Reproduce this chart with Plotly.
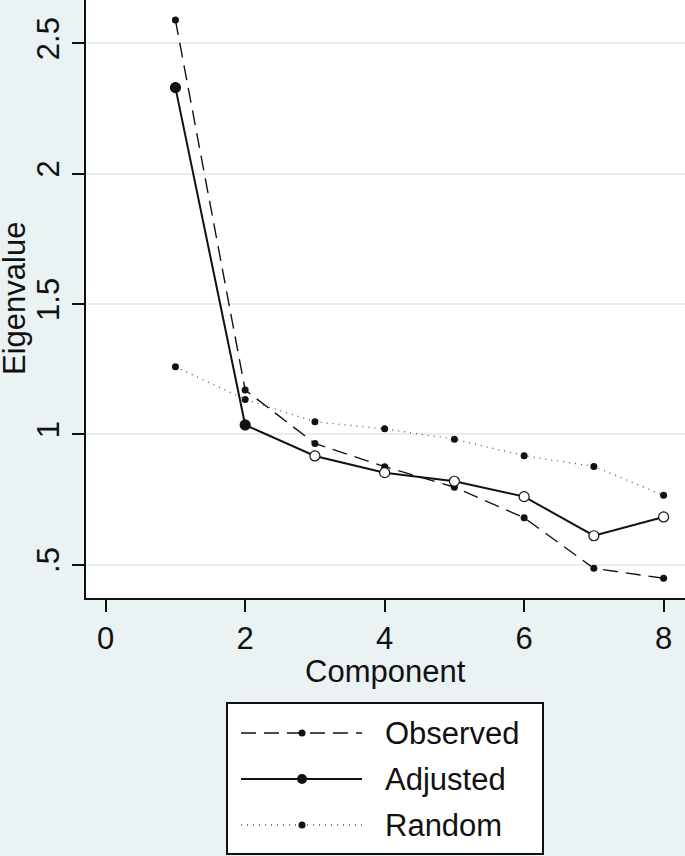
import plotly.graph_objects as go

# ---- data ----
components = [1, 2, 3, 4, 5, 6, 7, 8]
observed = [2.589, 1.170, 0.965, 0.876, 0.797, 0.680, 0.486, 0.448]
adjusted = [2.330, 1.036, 0.917, 0.853, 0.820, 0.761, 0.611, 0.683]
random_ev = [1.259, 1.134, 1.048, 1.021, 0.981, 0.918, 0.877, 0.766]
series_names = ["Observed", "Adjusted", "Random"]
x_ticks = [0, 2, 4, 6, 8]
y_ticks = [0.5, 1, 1.5, 2, 2.5]
y_ticktext = [".5", "1", "1.5", "2", "2.5"]
x_title = "Component"
y_title = "Eigenvalue"

W, H = 685, 856
FONT = "Liberation Sans, Arial, sans-serif"
BG = "#eaf2f3"
INK = "#111111"
FS = 31

adj_fill = [INK if v > 1 else "white" for v in adjusted]

fig = go.Figure()

fig.add_trace(go.Scatter(
    x=components, y=observed, mode="lines+markers", name=series_names[0],
    line=dict(color=INK, width=1.4, dash="15px,8px"),
    marker=dict(size=7, color=INK), showlegend=False, xaxis="x", yaxis="y"))
fig.add_trace(go.Scatter(
    x=components, y=adjusted, mode="lines+markers", name=series_names[1],
    line=dict(color=INK, width=2),
    marker=dict(size=10, color=adj_fill, line=dict(color=INK, width=1.2)),
    showlegend=False, xaxis="x", yaxis="y"))
fig.add_trace(go.Scatter(
    x=components, y=random_ev, mode="lines+markers", name=series_names[2],
    line=dict(color="#555555", width=1.3, dash="1px,5px"),
    marker=dict(size=7, color=INK), showlegend=False, xaxis="x", yaxis="y"))

# ---- custom legend drawn in its own small axes (pixel-like units) ----
leg_rows = [29, 75, 121]
leg_line_x = [13, 134]
leg_marker_x = 74
leg_text_x = 155
leg_styles = [
    dict(color=INK, width=1.4, dash="15px,8px"),
    dict(color=INK, width=2),
    dict(color="#555555", width=1.3, dash="1px,5px"),
]
leg_msize = [7, 10, 7]
for name, ry, ls, ms in zip(series_names, leg_rows, leg_styles, leg_msize):
    fig.add_trace(go.Scatter(x=leg_line_x, y=[ry, ry], mode="lines", line=ls,
                             showlegend=False, hoverinfo="skip", xaxis="x2", yaxis="y2"))
    fig.add_trace(go.Scatter(x=[leg_marker_x], y=[ry], mode="markers",
                             marker=dict(size=ms, color=INK), showlegend=False,
                             hoverinfo="skip", xaxis="x2", yaxis="y2"))
    fig.add_annotation(x=leg_text_x, y=ry, xref="x2", yref="y2", text=name,
                       showarrow=False, xanchor="left", yanchor="middle",
                       font=dict(family=FONT, size=FS, color=INK))

# axis titles
fig.add_annotation(x=14 / W, y=(H - 299) / H, xref="paper", yref="paper",
                   text=y_title, textangle=-90, showarrow=False,
                   xanchor="center", yanchor="middle",
                   font=dict(family=FONT, size=FS, color=INK))
fig.add_annotation(x=385.5 / W, y=(H - 671) / H, xref="paper", yref="paper",
                   text=x_title, showarrow=False, xanchor="center", yanchor="middle",
                   font=dict(family=FONT, size=FS, color=INK))

# reference line at eigenvalue 1
fig.add_shape(type="line", xref="x domain", yref="y", x0=0, x1=1, y0=1, y1=1,
              line=dict(color="#a0a0a0", width=1.5), layer="below")

fig.update_layout(
    width=W, height=H,
    margin=dict(l=0, r=0, t=0, b=0),
    paper_bgcolor=BG, plot_bgcolor="white",
    font=dict(family=FONT, size=FS, color=INK),
    xaxis=dict(domain=[86 / W, 1], range=[-0.2825, 8.307],
               tickvals=x_ticks, ticks="outside", ticklen=12, tickwidth=1.5,
               tickcolor=INK, showline=True, linecolor=INK, linewidth=1.5,
               showgrid=False, zeroline=False, ticklabelstandoff=0,
               tickfont=dict(family=FONT, size=FS, color=INK)),
    yaxis=dict(domain=[257.7 / H, 1], range=[0.371, 2.666],
               tickvals=y_ticks, ticktext=y_ticktext, tickangle=-90,
               ticks="outside", ticklen=12, tickwidth=1.5, tickcolor=INK,
               showline=True, linecolor=INK, linewidth=1.5,
               showgrid=True, gridcolor="#e3eef0", gridwidth=1.5,
               zeroline=False, ticklabelstandoff=1,
               tickfont=dict(family=FONT, size=FS, color=INK)),
    xaxis2=dict(domain=[228 / W, 542 / W], range=[0, 314], anchor="y2",
                showgrid=False, zeroline=False, showticklabels=False,
                showline=True, mirror=True, linecolor=INK, linewidth=1.5),
    yaxis2=dict(domain=[(H - 853) / H, (H - 704) / H], range=[149, 0], anchor="x2",
                showgrid=False, zeroline=False, showticklabels=False,
                showline=True, mirror=True, linecolor=INK, linewidth=1.5),
)

fig.write_html(
    "out.html",
    config={"displayModeBar": False},
    post_script="document.body.style.margin='0';document.body.style.background='%s';" % BG,
)
